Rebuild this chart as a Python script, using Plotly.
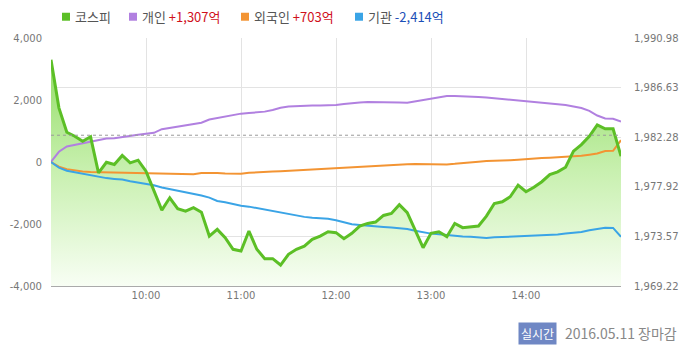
import plotly.graph_objects as go

times = ["09:00","09:05","09:10","09:15","09:20","09:25","09:30","09:35","09:40","09:45","09:50","09:55",
         "10:00","10:05","10:10","10:15","10:20","10:25","10:30","10:35","10:40","10:45","10:50","10:55",
         "11:00","11:05","11:10","11:15","11:20","11:25","11:30","11:35","11:40","11:45","11:50","11:55",
         "12:00","12:05","12:10","12:15","12:20","12:25","12:30","12:35","12:40","12:45","12:50","12:55",
         "13:00","13:05","13:10","13:15","13:20","13:25","13:30","13:35","13:40","13:45","13:50","13:55",
         "14:00","14:05","14:10","14:15","14:20","14:25","14:30","14:35","14:40","14:45","14:50","14:55",
         "15:00"]

kospi = [1989.08, 1984.85, 1982.71, 1982.36, 1981.92, 1982.31, 1979.15, 1980.08, 1979.88, 1980.67, 1980.03, 1980.26,
         1979.29, 1977.54, 1975.88, 1976.96, 1976.00, 1975.79, 1976.09, 1975.70, 1973.60, 1974.19, 1973.46, 1972.44,
         1972.29, 1974.04, 1972.44, 1971.62, 1971.62, 1971.06, 1972.00, 1972.44, 1972.72, 1973.31, 1973.60, 1973.98,
         1973.90, 1973.37, 1973.84, 1974.48, 1974.71, 1974.83, 1975.41, 1975.59, 1976.35, 1975.65, 1974.19, 1972.58,
         1973.84, 1973.98, 1973.55, 1974.71, 1974.34, 1974.42, 1974.48, 1975.35, 1976.46, 1976.61, 1977.05, 1978.07,
         1977.49, 1977.89, 1978.37, 1979.00, 1979.24, 1979.64, 1981.05, 1981.63, 1982.36, 1983.36, 1983.01, 1983.01,
         1980.61]

individual = [0, 330, 500, 550, 600, 660, 710, 755, 770, 800, 850, 880,
              915, 940, 1060, 1100, 1150, 1200, 1230, 1265, 1370, 1420, 1480, 1520,
              1560, 1580, 1595, 1625, 1680, 1750, 1790, 1810, 1822, 1826, 1826, 1830,
              1840, 1870, 1900, 1920, 1932, 1935, 1935, 1930, 1920, 1915, 1960, 2010,
              2060, 2100, 2129, 2130, 2125, 2110, 2097, 2080, 2055, 2030, 2000, 1985,
              1970, 1945, 1920, 1895, 1870, 1840, 1790, 1740, 1650, 1500, 1405, 1397,
              1307]

foreign = [0, -150, -230, -280, -310, -325, -330, -340, -345, -345, -345, -350,
           -355, -370, -377, -377, -377, -390, -395, -355, -350, -355, -370, -380,
           -375, -350, -330, -320, -310, -300, -285, -270, -255, -240, -220, -200,
           -190, -175, -160, -145, -130, -120, -110, -100, -88, -75, -65, -70,
           -77, -77, -77, -60, -30, -5, 10, 30, 35, 45, 55, 75,
           100, 110, 130, 140, 155, 165, 180, 200, 235, 275, 355, 360,
           703]

institution = [0, -180, -280, -330, -370, -430, -470, -520, -545, -565, -620, -660,
               -700, -750, -820, -870, -910, -970, -1030, -1080, -1150, -1255, -1300, -1360,
               -1410, -1440, -1490, -1520, -1570, -1630, -1690, -1740, -1770, -1800, -1815, -1830,
               -1880, -1950, -2010, -2035, -2060, -2080, -2095, -2110, -2125, -2160, -2220, -2270,
               -2310, -2330, -2360, -2375, -2400, -2415, -2440, -2450, -2430, -2420, -2405, -2395,
               -2390, -2385, -2380, -2370, -2340, -2310, -2290, -2255, -2200, -2160, -2120, -2125,
               -2414]

left_ticks = [-4000, -2000, 0, 2000, 4000]
left_labels = ["-4,000", "-2,000", "0", "2,000", "4,000"]
right_ticks = [1969.22, 1973.57, 1977.92, 1982.28, 1986.63, 1990.98]
right_labels = ["1,969.22", "1,973.57", "1,977.92", "1,982.28", "1,986.63", "1,990.98"]
x_ticks = ["10:00", "11:00", "12:00", "13:00", "14:00"]
prev_close = 1982.45

legend_items = [
    ("코스피", "", "#5cbf26", "#444444"),
    ("개인", "+1,307억", "#b180e0", "#d0101c"),
    ("외국인", "+703억", "#f39433", "#d0101c"),
    ("기관", "-2,414억", "#3aa4e6", "#1c4fb8"),
]

DAY = "2016-05-11 "
x = [DAY + t for t in times]

GREEN = "#5cbf26"
PURPLE = "#b180e0"
ORANGE = "#f39433"
BLUE = "#3aa4e6"
FONT = "DejaVu Sans"
KFONT = "Noto Sans CJK KR"
GRID = "#e3e3e3"

fig = go.Figure()

# KOSPI fill (main axis, drawn beneath)
fig.add_trace(go.Scatter(
    x=x, y=kospi, mode="lines", line=dict(width=0, color=GREEN),
    fill="tozeroy",
    fillgradient=dict(type="vertical",
                      colorscale=[[0, "rgba(248,254,244,1)"], [0.5, "rgba(200,240,175,1)"], [1, "rgba(145,220,100,1)"]],
                      start=1969.22, stop=1989.5),
    yaxis="y", showlegend=False, hoverinfo="skip"))

# investor lines on left axis
fig.add_trace(go.Scatter(x=x, y=individual, mode="lines", line=dict(color=PURPLE, width=2),
                         yaxis="y2", showlegend=False))
fig.add_trace(go.Scatter(x=x, y=foreign, mode="lines", line=dict(color=ORANGE, width=2),
                         yaxis="y2", showlegend=False))
fig.add_trace(go.Scatter(x=x, y=institution, mode="lines", line=dict(color=BLUE, width=2),
                         yaxis="y2", showlegend=False))

# KOSPI line on top
fig.add_trace(go.Scatter(x=x, y=kospi, mode="lines", line=dict(color=GREEN, width=3),
                         yaxis="y3", showlegend=False))

xr = [DAY + "09:00", DAY + "15:00"]

# page body has an 8px margin, so the figure is 692x348 and offset by 8px
fig.update_layout(
    width=692, height=348,
    margin=dict(l=43, r=79, t=30, b=69.6),
    paper_bgcolor="white", plot_bgcolor="white",
    showlegend=False,
    xaxis=dict(type="date", range=xr, automargin=False,
               tickvals=[DAY + t for t in x_ticks], ticktext=x_ticks,
               showgrid=True, gridcolor=GRID, gridwidth=1,
               showline=True, linecolor="#aaaaaa", linewidth=1,
               ticks="", tickfont=dict(family=FONT, size=10, color="#777777"),
               zeroline=False, fixedrange=True),
    yaxis=dict(range=[1969.22, 1990.98], side="right", automargin=False,
               tickvals=right_ticks, ticktext=right_labels,
               showgrid=True, gridcolor=GRID, gridwidth=1, zeroline=False,
               ticks="", ticklabelstandoff=12,
               tickfont=dict(family=FONT, size=10, color="#777777")),
    yaxis2=dict(range=[-4000, 4000], overlaying="y", side="left", automargin=False,
                tickvals=left_ticks, ticktext=left_labels,
                showgrid=False, zeroline=False, ticks="", ticklabelstandoff=8,
                tickfont=dict(family=FONT, size=10, color="#777777")),
    yaxis3=dict(range=[1969.22, 1990.98], overlaying="y", side="right", automargin=False,
                showgrid=False, zeroline=False, showticklabels=False, visible=False),
)

# previous close dotted line
fig.add_shape(type="line", xref="paper", x0=0, x1=1, yref="y", y0=prev_close, y1=prev_close,
              line=dict(color="#9a9a9a", width=1, dash="dot"), layer="above")

# legend built from squares and text (positions in page pixels -> paper)
PW = 570.0
PH = 248.4
def px2paper(px):
    return (px - 51) / PW
def py2paper(py):
    return (286.7 - py) / PH

sq_x = [62, 129, 241, 355]
for (name, val, col, vcol), sx in zip(legend_items, sq_x):
    fig.add_shape(type="rect", xref="paper", yref="paper",
                  x0=px2paper(sx), x1=px2paper(sx + 8), y0=py2paper(21), y1=py2paper(13),
                  fillcolor=col, line=dict(width=0))
    txt = name
    if val:
        txt += " <span style='color:%s'>%s</span>" % (vcol, val)
    fig.add_annotation(xref="paper", yref="paper", x=px2paper(sx + 11), y=py2paper(17),
                       xanchor="left", yanchor="middle", showarrow=False,
                       text=txt, font=dict(family=KFONT, size=13, color="#555555"))

# footer
fig.add_annotation(xref="paper", yref="paper", x=px2paper(518), y=py2paper(334),
                   xanchor="left", yanchor="middle", showarrow=False,
                   text="실시간", bgcolor="#6f87c4", borderpad=2,
                   font=dict(family=KFONT, size=12, color="white"))
fig.add_annotation(xref="paper", yref="paper", x=px2paper(563), y=py2paper(334),
                   xanchor="left", yanchor="middle", showarrow=False,
                   text="2016.05.11 장마감",
                   font=dict(family=KFONT, size=14, color="#888888"))

fig.write_html("out.html")
